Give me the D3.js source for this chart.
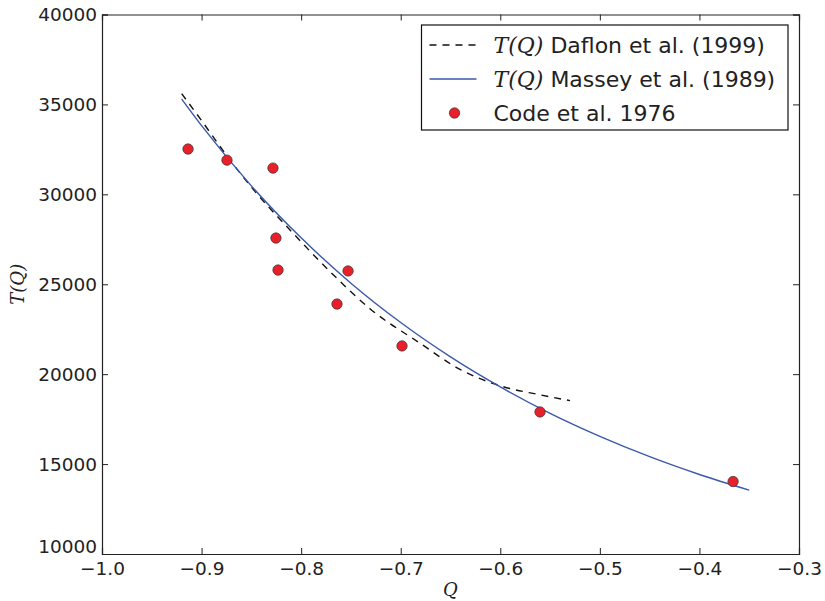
<!DOCTYPE html>
<html>
<head>
<meta charset="utf-8">
<script src="https://cdn.jsdelivr.net/npm/d3@7"></script>
<style>
  body { margin: 0; background: #fff; }
  text { font-family: "DejaVu Sans", sans-serif; fill: #222; }
  .math { font-family: "DejaVu Serif", "Liberation Serif", serif; font-style: italic; }
</style>
</head>
<body>
<div id="vizArea"></div>
<script>
// Code et al. 1976 points
const codeQ = [-0.9136, -0.8745, -0.8283, -0.8253, -0.8232, -0.7529, -0.764, -0.6987, -0.5601, -0.3662];
const codeT = [32520, 31900, 31460, 27570, 25790, 25740, 23900, 21570, 17900, 14030];

// Massey et al. (1989) curve
const masseyQ = [-0.92, -0.90, -0.85, -0.80, -0.75, -0.70, -0.65, -0.60, -0.55, -0.50, -0.45, -0.40, -0.35];
const masseyT = [35300, 33820, 30470, 27580, 25060, 22870, 20960, 19290, 17820, 16540, 15410, 14420, 13550];

// Daflon et al. (1999) curve
const daflonQ = [-0.92, -0.90, -0.88, -0.85, -0.81, -0.77, -0.73, -0.68, -0.64, -0.60, -0.56, -0.53];
const daflonT = [35600, 34100, 32550, 30400, 27950, 25650, 23600, 21700, 20250, 19350, 18850, 18530];

const xTicks = [-1.0, -0.9, -0.8, -0.7, -0.6, -0.5, -0.4, -0.3];
const yTicks = [10000, 15000, 20000, 25000, 30000, 35000, 40000];

const margin = {top: 14.5, right: 26, bottom: 47, left: 102},
    width = 825 - margin.left - margin.right,
    height = 601 - margin.top - margin.bottom;

const svg = d3.select("#vizArea")
    .append("svg")
    .attr("width", 825)
    .attr("height", 601)
    .append("g")
    .attr("transform", "translate(" + margin.left + "," + margin.top + ")");

const x = d3.scaleLinear().domain([-1.0, -0.3]).range([0, width]);
const y = d3.scaleLinear().domain([10000, 40000]).range([height, 0]);

// axes, ticks pointing inwards like matplotlib
const fmtX = d3.format(".1f");
svg.append("g")
    .attr("transform", `translate(0,${height})`)
    .call(d3.axisBottom(x).tickValues(xTicks).tickFormat(fmtX).tickSize(-6).tickPadding(8));
svg.append("g")
    .call(d3.axisTop(x).tickValues(xTicks).tickFormat("").tickSize(-6));
svg.append("g")
    .call(d3.axisLeft(y).tickValues(yTicks).tickFormat(d3.format("d")).tickSize(-6).tickPadding(5));
svg.append("g")
    .attr("transform", `translate(${width},0)`)
    .call(d3.axisRight(y).tickValues(yTicks).tickFormat("").tickSize(-6));

svg.selectAll(".domain").attr("stroke", "#222").attr("stroke-width", 1.2);
svg.selectAll(".tick line").attr("stroke", "#222").attr("stroke-width", 1);
svg.selectAll(".tick text").style("font-size", "18.5px").attr("fill", "#222");
// bottom y label sits a bit higher in the reference
svg.selectAll(".tick text").filter(d => d === 10000).attr("dy", "-0.06em");

const line = d3.line()
    .x(d => x(d[0]))
    .y(d => y(d[1]))
    .curve(d3.curveMonotoneX);

svg.append("path")
    .datum(daflonQ.map((q, i) => [q, daflonT[i]]))
    .attr("fill", "none")
    .attr("stroke", "#111")
    .attr("stroke-width", 1.4)
    .attr("stroke-dasharray", "7,6")
    .attr("d", line);

svg.append("path")
    .datum(masseyQ.map((q, i) => [q, masseyT[i]]))
    .attr("fill", "none")
    .attr("stroke", "#3b58aa")
    .attr("stroke-width", 1.4)
    .attr("d", line);

svg.selectAll("circle.code")
    .data(codeQ.map((q, i) => [q, codeT[i]]))
    .join("circle")
    .attr("class", "code")
    .attr("cx", d => x(d[0]))
    .attr("cy", d => y(d[1]))
    .attr("r", 5.2)
    .attr("fill", "#e8202a")
    .attr("stroke", "#333")
    .attr("stroke-width", 0.7);

// axis labels
svg.append("text")
    .attr("class", "math")
    .attr("x", x(-0.65))
    .attr("y", height + 42)
    .attr("text-anchor", "middle")
    .style("font-size", "18px")
    .text("Q");

svg.append("text")
    .attr("class", "math")
    .attr("transform", `translate(${-78},${height / 2}) rotate(-90)`)
    .attr("text-anchor", "middle")
    .style("font-size", "18px")
    .text("T(Q)");

// legend
const legend = svg.append("g").attr("transform", `translate(${421.5 - margin.left},${25 - margin.top})`);
legend.append("rect")
    .attr("width", 366.5)
    .attr("height", 105)
    .attr("fill", "#fff")
    .attr("stroke", "#111")
    .attr("stroke-width", 1.2);

const rows = [
    {math: "T(Q)", label: " Daflon et al. (1999)", type: "dash"},
    {math: "T(Q)", label: " Massey et al. (1989)", type: "line"},
    {math: "", label: "Code et al. 1976", type: "dot"}
];
rows.forEach((r, i) => {
    const cy = 20 + i * 34;
    if (r.type === "dash") {
        legend.append("line").attr("x1", 8).attr("x2", 55).attr("y1", cy).attr("y2", cy)
            .attr("stroke", "#111").attr("stroke-width", 1.4).attr("stroke-dasharray", "7,6");
    } else if (r.type === "line") {
        legend.append("line").attr("x1", 8).attr("x2", 55).attr("y1", cy).attr("y2", cy)
            .attr("stroke", "#3b58aa").attr("stroke-width", 1.4);
    } else {
        legend.append("circle").attr("cx", 33).attr("cy", cy).attr("r", 5.2)
            .attr("fill", "#e8202a").attr("stroke", "#333").attr("stroke-width", 0.7);
    }
    const t = legend.append("text")
        .attr("x", 72)
        .attr("y", cy)
        .attr("dy", "0.35em")
        .style("font-size", "22px");
    if (r.math) t.append("tspan").attr("class", "math").text(r.math);
    t.append("tspan").text(r.label);
});
</script>
</body>
</html>
